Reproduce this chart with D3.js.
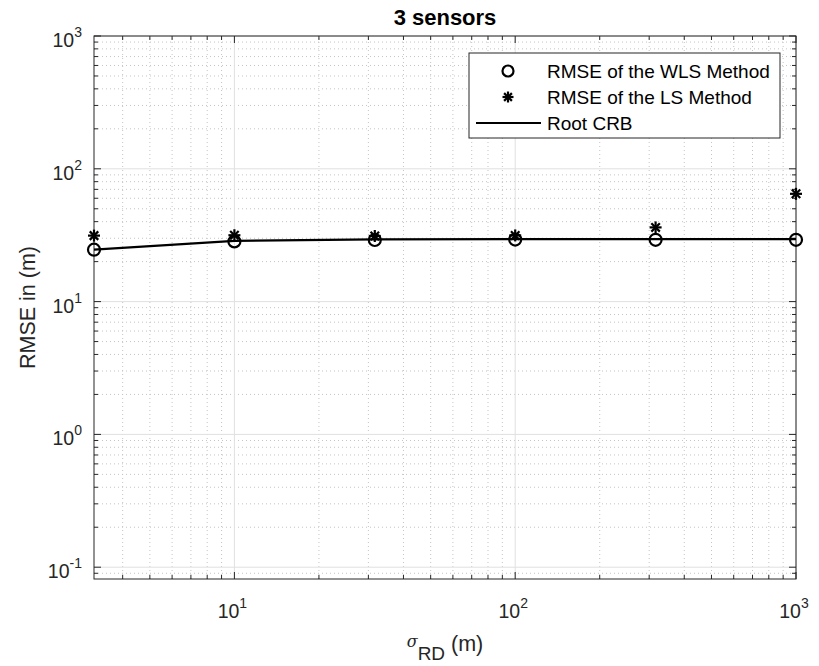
<!DOCTYPE html>
<html>
<head>
<meta charset="utf-8">
<script src="https://cdn.jsdelivr.net/npm/d3@7"></script>
<style>
  body { margin: 0; background: #fff; }
  svg { font-family: "Liberation Sans", Arial, Helvetica, sans-serif; }
</style>
</head>
<body>
<svg id="chart" width="819" height="666"></svg>
<script>
// data
const sigmaRD = [3.1623, 10, 31.623, 100, 316.23, 1000];
const rmseWLS = [24.6, 28.4, 29.1, 29.3, 29.2, 29.2];
const rmseLS = [31.4, 31.6, 31.2, 31.5, 36.2, 64.8];
const rootCRB = [24.6, 28.7, 29.4, 29.5, 29.5, 29.5];
const xTickExps = [1, 2, 3];
const yTickExps = [-1, 0, 1, 2, 3];
const legendLabels = ["RMSE of the WLS Method", "RMSE of the LS Method", "Root CRB"];

const svg = d3.select("#chart");
const margin = { left: 94, right: 23, top: 36, bottom: 87 };
const W = 819, H = 666;

const x = d3.scaleLog()
    .domain([Math.sqrt(10), 1000])
    .range([margin.left, W - margin.right]);
const y = d3.scaleLog()
    .domain([0.0815, 1000])
    .range([H - margin.bottom, margin.top]);

const x0 = margin.left, x1 = W - margin.right;
const y0 = H - margin.bottom, y1 = margin.top;

// minor ticks (2..9 in each decade inside the domain)
function minorTicks(scale) {
    const [a, b] = scale.domain();
    const out = [];
    for (let e = Math.floor(Math.log10(a)); e <= Math.ceil(Math.log10(b)); e++) {
        for (let m = 2; m <= 9; m++) {
            const v = m * Math.pow(10, e);
            if (v > a && v < b) out.push(v);
        }
    }
    return out;
}
const xMinor = minorTicks(x);
const yMinor = minorTicks(y);
const xMajor = xTickExps.map(e => Math.pow(10, e));
const yMajor = yTickExps.map(e => Math.pow(10, e));

// grid
const grid = svg.append("g");
grid.selectAll(".xmin").data(xMinor).join("line")
    .attr("x1", d => x(d)).attr("x2", d => x(d))
    .attr("y1", y0).attr("y2", y1)
    .attr("stroke", "#c4c4c4").attr("stroke-width", 1)
    .attr("stroke-dasharray", "1,3");
grid.selectAll(".ymin").data(yMinor).join("line")
    .attr("y1", d => y(d)).attr("y2", d => y(d))
    .attr("x1", x0).attr("x2", x1)
    .attr("stroke", "#c4c4c4").attr("stroke-width", 1)
    .attr("stroke-dasharray", "1,3");
grid.selectAll(".xmaj").data(xMajor).join("line")
    .attr("x1", d => x(d)).attr("x2", d => x(d))
    .attr("y1", y0).attr("y2", y1)
    .attr("stroke", "#e0e0e0").attr("stroke-width", 1);
grid.selectAll(".ymaj").data(yMajor).join("line")
    .attr("y1", d => y(d)).attr("y2", d => y(d))
    .attr("x1", x0).attr("x2", x1)
    .attr("stroke", "#e0e0e0").attr("stroke-width", 1);

// inward ticks on all four sides (box on)
function tickMarks(g, vals, scale, orient, len) {
    g.selectAll(null).data(vals).join("line")
        .attr("stroke", "#262626").attr("stroke-width", 1)
        .each(function (d) {
            const s = d3.select(this);
            const p = scale(d);
            if (orient === "bottom") s.attr("x1", p).attr("x2", p).attr("y1", y0).attr("y2", y0 - len);
            if (orient === "top") s.attr("x1", p).attr("x2", p).attr("y1", y1).attr("y2", y1 + len);
            if (orient === "left") s.attr("y1", p).attr("y2", p).attr("x1", x0).attr("x2", x0 + len);
            if (orient === "right") s.attr("y1", p).attr("y2", p).attr("x1", x1).attr("x2", x1 - len);
        });
}
const axes = svg.append("g");
tickMarks(axes, xMajor, x, "bottom", 7);
tickMarks(axes, xMajor, x, "top", 7);
tickMarks(axes, xMinor, x, "bottom", 4);
tickMarks(axes, xMinor, x, "top", 4);
tickMarks(axes, yMajor, y, "left", 7);
tickMarks(axes, yMajor, y, "right", 7);
tickMarks(axes, yMinor, y, "left", 4);
tickMarks(axes, yMinor, y, "right", 4);

axes.append("rect")
    .attr("x", x0).attr("y", y1)
    .attr("width", x1 - x0).attr("height", y0 - y1)
    .attr("fill", "none").attr("stroke", "#262626").attr("stroke-width", 1);

// tick labels
const xl = axes.selectAll(".xl").data(xTickExps).join("text")
    .attr("x", d => x(Math.pow(10, d)) - 2)
    .attr("y", y0 + 39)
    .attr("text-anchor", "middle")
    .attr("font-size", 19.5).attr("fill", "#262626");
xl.append("tspan").text("10");
xl.append("tspan").attr("dy", -10).attr("font-size", 14).text(d => d);

const yl = axes.selectAll(".yl").data(yTickExps).join("text")
    .attr("x", x0 - 12)
    .attr("y", d => y(Math.pow(10, d)) + 11)
    .attr("text-anchor", "end")
    .attr("font-size", 19.5).attr("fill", "#262626");
yl.append("tspan").text("10");
yl.append("tspan").attr("dy", -10).attr("font-size", 14).text(d => d);

// titles
svg.append("text")
    .attr("x", 445).attr("y", 25)
    .attr("text-anchor", "middle")
    .attr("font-size", 22).attr("font-weight", "bold").attr("fill", "#000")
    .text("3 sensors");

const xt = svg.append("text")
    .attr("x", 445).attr("y", 651)
    .attr("text-anchor", "middle")
    .attr("font-size", 21.5).attr("fill", "#262626");
xt.append("tspan").attr("font-style", "italic").attr("font-family", "DejaVu Serif, serif")
    .attr("font-size", 16).attr("dy", -4).text("σ");
xt.append("tspan").attr("dy", 13).attr("font-size", 19).text("RD");
xt.append("tspan").attr("dy", -9).text(" (m)");

svg.append("text")
    .attr("transform", `translate(35,${(y0 + y1) / 2}) rotate(-90)`)
    .attr("text-anchor", "middle")
    .attr("font-size", 21.5).attr("fill", "#262626")
    .text("RMSE in (m)");

// series
const plot = svg.append("g");
const line = d3.line().x((d, i) => x(sigmaRD[i])).y(d => y(d));
plot.append("path").datum(rootCRB)
    .attr("d", line)
    .attr("fill", "none").attr("stroke", "#000").attr("stroke-width", 2.2);

plot.selectAll(".wls").data(rmseWLS).join("circle")
    .attr("cx", (d, i) => x(sigmaRD[i])).attr("cy", d => y(d))
    .attr("r", 6).attr("fill", "none").attr("stroke", "#000").attr("stroke-width", 2.2);

function star(g, cx, cy, r) {
    for (let k = 0; k < 4; k++) {
        const a = k * Math.PI / 4;
        g.append("line")
            .attr("x1", cx - r * Math.cos(a)).attr("y1", cy - r * Math.sin(a))
            .attr("x2", cx + r * Math.cos(a)).attr("y2", cy + r * Math.sin(a))
            .attr("stroke", "#000").attr("stroke-width", 2.2);
    }
}
rmseLS.forEach((d, i) => star(plot, x(sigmaRD[i]), y(d), 6));

// legend
const lg = svg.append("g");
lg.append("rect")
    .attr("x", 469).attr("y", 53).attr("width", 311).attr("height", 85)
    .attr("fill", "#fff").attr("stroke", "#262626").attr("stroke-width", 1);
const rowY = [71, 97, 123];
lg.append("circle").attr("cx", 508).attr("cy", rowY[0]).attr("r", 5.5)
    .attr("fill", "none").attr("stroke", "#000").attr("stroke-width", 2.2);
star(lg, 508, rowY[1], 5.5);
lg.append("line").attr("x1", 476).attr("x2", 541).attr("y1", rowY[2]).attr("y2", rowY[2])
    .attr("stroke", "#000").attr("stroke-width", 2.2);
lg.selectAll(".lt").data(legendLabels).join("text")
    .attr("x", 547).attr("y", (d, i) => rowY[i] + 7)
    .attr("font-size", 19).attr("fill", "#000")
    .text(d => d);
</script>
</body>
</html>
